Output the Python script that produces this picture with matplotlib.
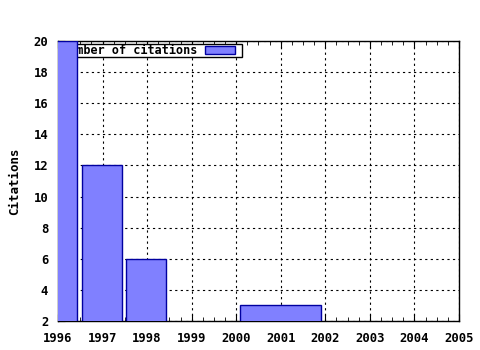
import matplotlib
matplotlib.use("Agg")
import matplotlib.pyplot as plt
from matplotlib.patches import Rectangle
from matplotlib.ticker import MultipleLocator

years = [1996, 1997, 1998, 2001]
citations = [20, 12, 6, 3]
bar_left = [1995.55, 1996.54, 1997.52, 2000.08]
bar_width = [0.88, 0.9, 0.9, 1.82]
x_ticks = [1996, 1997, 1998, 1999, 2000, 2001, 2002, 2003, 2004, 2005]
y_ticks = [2, 4, 6, 8, 10, 12, 14, 16, 18, 20]
series_label = "Number of citations"
y_label = "Citations"

plt.rcParams["font.family"] = "DejaVu Sans Mono"
plt.rcParams["font.weight"] = "bold"

fig = plt.figure(figsize=(4.8, 3.5), dpi=100)
ax = fig.add_axes([58/480, 1 - 321/350, 401/480, 280/350])

ax.set_xlim(1996, 2005)
ax.set_ylim(2, 20)
ax.set_xticks(x_ticks)
ax.set_yticks(y_ticks)
ax.xaxis.set_minor_locator(MultipleLocator(0.25))
ax.grid(True, which="major", linestyle=(0, (2, 3)), color="black", linewidth=0.8)
ax.tick_params(axis="both", which="both", direction="in", labelsize=8.8)
ax.tick_params(axis="x", which="major", length=5, top=True, pad=8)
ax.tick_params(axis="x", which="minor", length=3, top=True)
ax.tick_params(axis="y", which="major", length=5, right=False, pad=7)
for lbl in ax.get_xticklabels() + ax.get_yticklabels():
    lbl.set_fontweight("bold")
for s in ax.spines.values():
    s.set_linewidth(1.0)

# legend (drawn underneath bars, as in reference)
lx0, lx1 = 1996.05, 1996 + (242 - 58) / 401 * 9
ly0, ly1 = 20 - (57 - 41) / 280 * 18, 20 - (44 - 41) / 280 * 18
ax.add_patch(Rectangle((lx0, ly0), lx1 - lx0, ly1 - ly0, facecolor="white",
                       edgecolor="black", linewidth=1.0, zorder=3))
tx = 1996 + (197 - 58) / 401 * 9
ax.text(tx, (ly0 + ly1) / 2, series_label, ha="right", va="center",
        fontsize=8.5, fontweight="bold", zorder=3.5, clip_on=True)
sx0 = 1996 + (205 - 58) / 401 * 9
sx1 = 1996 + (235 - 58) / 401 * 9
sy0 = 20 - (54 - 41) / 280 * 18
sy1 = 20 - (46 - 41) / 280 * 18
ax.add_patch(Rectangle((sx0, sy0), sx1 - sx0, sy1 - sy0, facecolor="#8080ff",
                       edgecolor="#0000a0", linewidth=1.0, zorder=3.5))

ax.bar(bar_left, citations, width=bar_width, align="edge", bottom=0,
       color="#8080ff", edgecolor="#0000a0", linewidth=1.0, zorder=4)

ax.set_ylabel(y_label, fontsize=9, fontweight="bold", labelpad=9)

fig.savefig("out.png", dpi=100)
